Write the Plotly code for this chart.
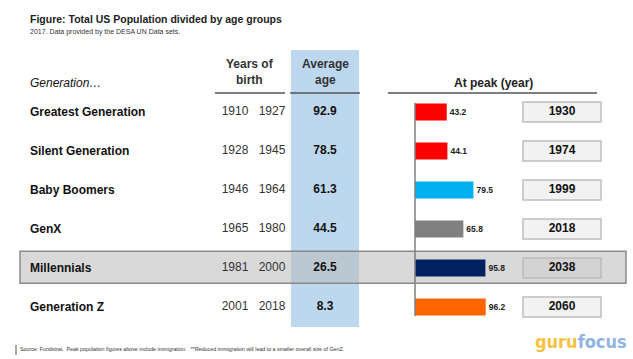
import plotly.graph_objects as go

W, H = 633, 359

generations = ["Greatest Generation", "Silent Generation", "Baby Boomers", "GenX", "Millennials", "Generation Z"]
birth_start = ["1910", "1928", "1946", "1965", "1981", "2001"]
birth_end = ["1927", "1945", "1964", "1980", "2000", "2018"]
average_age = ["92.9", "78.5", "61.3", "44.5", "26.5", "8.3"]
peak_population = [43.2, 44.1, 79.5, 65.8, 95.8, 96.2]
peak_year = ["1930", "1974", "1999", "2018", "2038", "2060"]
bar_colors = ["#ff0000", "#ff0000", "#00b0f0", "#808080", "#002060", "#ff6600"]
highlight = "Millennials"

FONT = "Arial, Liberation Sans, sans-serif"
NARROW = "DejaVu Sans Condensed, Liberation Sans Narrow, Arial Narrow, sans-serif"
ROW0, ROWH = 112, 39  # pixel centre of first row, row pitch


def py(p):
    return 1 - p / H


def px(p):
    return p / W


fig = go.Figure()

# ---------- bars (peak population) ----------
fig.add_trace(go.Bar(
    x=peak_population, y=generations, orientation="h",
    xaxis="x2", yaxis="y",
    marker=dict(color=bar_colors, line=dict(width=0)),
    width=0.44,
    text=[f"<b>{v:.1f}</b>" for v in peak_population],
    textposition="outside", cliponaxis=False, constraintext="none",
    textfont=dict(family=FONT, size=8.5, color="#222222"),
    hoverinfo="skip",
))

# ---------- table text ----------
fig.add_trace(go.Scatter(
    x=[235] * len(generations), y=generations, mode="text", text=birth_start,
    textfont=dict(family=FONT, size=12, color="#333333"), hoverinfo="skip"))
fig.add_trace(go.Scatter(
    x=[272] * len(generations), y=generations, mode="text", text=birth_end,
    textfont=dict(family=FONT, size=12, color="#333333"), hoverinfo="skip"))
fig.add_trace(go.Scatter(
    x=[325] * len(generations), y=generations, mode="text",
    text=[f"<b>{a}</b>" for a in average_age],
    textfont=dict(family=FONT, size=12, color="#111111"), hoverinfo="skip"))
fig.add_trace(go.Scatter(
    x=[562] * len(generations), y=generations, mode="text",
    text=[f"<b>{y}</b>" for y in peak_year],
    textfont=dict(family=FONT, size=12, color="#111111"), hoverinfo="skip"))

shapes = []
annotations = []

# blue average-age column
shapes.append(dict(type="rect", xref="paper", yref="paper",
                   x0=px(291), x1=px(359), y0=py(327), y1=py(50),
                   fillcolor="#bdd7ee", line=dict(width=0), layer="below"))

for i, g in enumerate(generations):
    annotations.append(dict(xref="x", yref="y", x=28, y=g, text=f"<b>{g}</b>",
                            xanchor="left", yanchor="middle", showarrow=False,
                            font=dict(family=FONT, size=12, color="#111111")))
    shapes.append(dict(type="rect", xref="x", yref="y",
                       x0=523, x1=601, y0=i - 0.255, y1=i + 0.255,
                       fillcolor="#f2f2f2", line=dict(color="#bfbfbf", width=1.5),
                       layer="below"))
    if g == highlight:
        shapes.append(dict(type="rect", xref="x", yref="y",
                           x0=20, x1=626, y0=i - 0.43, y1=i + 0.39,
                           fillcolor="rgba(185,185,185,0.55)",
                           line=dict(color="#8a8a8a", width=1.5), layer="below"))

# header underlines
for x0, x1 in [(215, 285), (290, 360), (388, 597)]:
    shapes.append(dict(type="line", xref="paper", yref="paper",
                       x0=px(x0), x1=px(x1), y0=py(93), y1=py(93),
                       line=dict(color="#555555", width=1.5)))
# bar axis line
shapes.append(dict(type="line", xref="paper", yref="paper",
                   x0=px(415), x1=px(415), y0=py(103), y1=py(316),
                   line=dict(color="#7f7f7f", width=1.5)))
# footnote marker line
shapes.append(dict(type="line", xref="paper", yref="paper",
                   x0=px(16), x1=px(16), y0=py(345), y1=py(355),
                   line=dict(color="#555555", width=1)))

def ann(x, y, text, size, color="#222222", xanchor="left", family=FONT, **kw):
    annotations.append(dict(xref="paper", yref="paper", x=px(x), y=py(y), text=text,
                            xanchor=xanchor, yanchor="middle", showarrow=False,
                            font=dict(family=family, size=size, color=color), **kw))

ann(28, 19, "<b>Figure: Total US Population divided by age groups</b>", 10.5, "#222222")
ann(28, 32, "2017. Data provided by the DESA UN Data sets.", 7, "#333333")
ann(28, 83, "<i>Generation…</i>", 12, "#111111")
ann(250, 72, "<b>Years of<br>birth</b>", 12, "#333333", xanchor="center")
ann(325, 72, "<b>Average<br>age</b>", 12, "#333333", xanchor="center")
ann(493, 83, "<b>At peak (year)</b>", 12, "#222222", xanchor="center")
ann(18, 349, "Source: Fundstrat.  Peak population figures above include immigration.   **Reduced immigration will lead to a smaller overall size of GenZ.",
    5.3, "#333333")
ann(581, 341, "<b><span style='color:#f5c243'>guru</span><span style='color:#8fb4e3'>focus</span></b>",
    18, "#8fb4e3", xanchor="center", family=NARROW)

n = len(generations)
top = ROW0 - ROWH / 2
bottom = ROW0 + ROWH * (n - 0.5)

fig.update_layout(
    width=W, height=H,
    margin=dict(l=0, r=0, t=0, b=0),
    paper_bgcolor="white", plot_bgcolor="rgba(0,0,0,0)",
    showlegend=False,
    xaxis=dict(range=[0, W], domain=[0, 1], visible=False, fixedrange=True),
    xaxis2=dict(range=[0, 200], domain=[px(415), px(415 + 147)], visible=False,
                anchor="y", fixedrange=True),
    yaxis=dict(type="category", categoryorder="array", categoryarray=generations,
               range=[n - 0.5, -0.5], domain=[py(bottom), py(top)],
               visible=False, fixedrange=True),
    shapes=shapes, annotations=annotations,
    font=dict(family=FONT),
)

fig.write_html("out.html", config={"displayModeBar": False},
               post_script="document.body.style.margin='0';")
